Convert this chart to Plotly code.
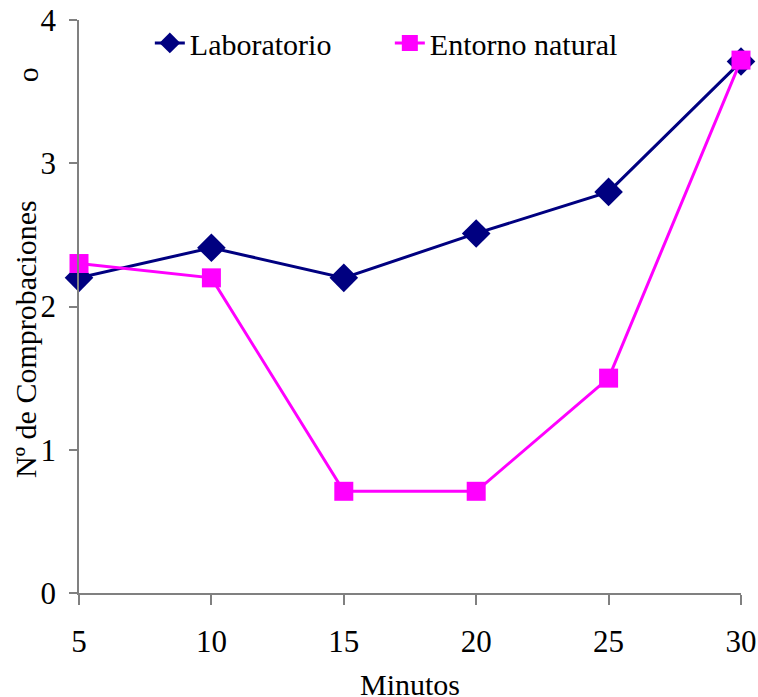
import plotly.graph_objects as go

minutos = [5, 10, 15, 20, 25, 30]
laboratorio = [2.2, 2.41, 2.2, 2.51, 2.8, 3.71]
entorno_natural = [2.3, 2.2, 0.71, 0.71, 1.5, 3.72]
x_ticks = [5, 10, 15, 20, 25, 30]
y_ticks = [0, 1, 2, 3, 4]

FONT = "Liberation Serif, Times New Roman, serif"

fig = go.Figure()
fig.add_trace(go.Scatter(
    x=minutos, y=laboratorio, name="Laboratorio", mode="lines+markers",
    line=dict(color="#000080", width=3),
    marker=dict(symbol="diamond", size=22, color="#000080"),
    cliponaxis=False,
))
fig.add_trace(go.Scatter(
    x=minutos, y=entorno_natural, name="Entorno natural", mode="lines+markers",
    line=dict(color="#FF00FF", width=3),
    marker=dict(symbol="square", size=19, color="#FF00FF"),
    cliponaxis=False,
))

axis_common = dict(
    showgrid=False, zeroline=False, showline=True, linecolor="#808080", linewidth=1.5,
    ticks="outside", tickcolor="#808080", tickwidth=1.5, automargin=False,
    ticklabeloverflow="allow",
    tickfont=dict(family=FONT, size=31, color="black"),
)
fig.update_xaxes(range=[5, 30], tickvals=x_ticks, ticklen=10, ticklabelstandoff=10, **axis_common)
fig.update_yaxes(range=[0, 4], tickvals=y_ticks, ticklen=8, ticklabelstandoff=7, **axis_common)

fig.update_layout(
    width=758, height=697,
    margin=dict(l=79, r=17, t=20, b=104, autoexpand=False),
    paper_bgcolor="white", plot_bgcolor="white",
    font=dict(family=FONT, size=30, color="black"),
    showlegend=True,
    legend=dict(
        orientation="h", x=0.107, y=0.96, xanchor="left", yanchor="middle",
        font=dict(family=FONT, size=30, color="black"),
        bgcolor="rgba(0,0,0,0)", entrywidth=195, entrywidthmode="pixels",
    ),
    annotations=[
        dict(text="Minutos", x=0.5, y=-0.16, xref="paper", yref="paper",
             xanchor="center", yanchor="middle", showarrow=False,
             font=dict(family=FONT, size=30)),
        dict(text="Nº de Comprobaciones", x=-0.082, y=0.443, xref="paper", yref="paper",
             xanchor="center", yanchor="middle", showarrow=False, textangle=-90,
             font=dict(family=FONT, size=30)),
        dict(text="o", x=-0.078, y=0.904, xref="paper", yref="paper",
             xanchor="center", yanchor="middle", showarrow=False, textangle=-90,
             font=dict(family=FONT, size=30)),
    ],
)

fig.write_html(
    "out.html",
    config={"displayModeBar": False},
    post_script="document.body.style.margin='0';document.documentElement.style.overflow='hidden';",
)
